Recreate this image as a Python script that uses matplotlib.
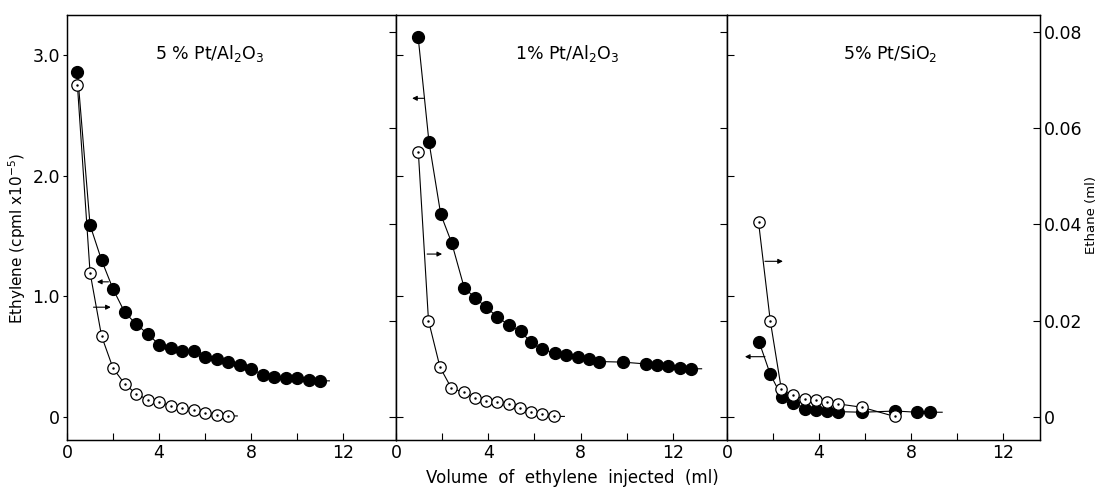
import matplotlib.pyplot as plt

# ethylene (cpm x 1e-5, left axis, filled) and ethane (ml, right axis, open)
# 5% Pt/Al2O3
a5_ethylene_x = [0.45, 1.0, 1.5, 2.0, 2.5, 3.0, 3.5, 4.0, 4.5, 5.0, 5.5,
                 6.0, 6.5, 7.0, 7.5, 8.0, 8.5, 9.0, 9.5, 10.0, 10.5, 11.0]
a5_ethylene_y = [2.86, 1.59, 1.30, 1.06, 0.87, 0.77, 0.69, 0.60, 0.57, 0.545, 0.55,
                 0.50, 0.48, 0.455, 0.43, 0.40, 0.35, 0.33, 0.32, 0.32, 0.305, 0.30]
a5_ethane_x = [0.45, 1.0, 1.5, 2.0, 2.5, 3.0, 3.5, 4.0, 4.5, 5.0, 5.5, 6.0, 6.5, 7.0]
a5_ethane_y = [0.069, 0.030, 0.0168, 0.0101, 0.0069, 0.0048, 0.0036, 0.0031,
               0.0023, 0.0018, 0.0015, 0.0008, 0.0003, 0.0002]

# 1% Pt/Al2O3
a1_ethylene_x = [0.96, 1.43, 1.94, 2.42, 2.96, 3.42, 3.9, 4.4, 4.9, 5.4, 5.85, 6.33,
                 6.9, 7.38, 7.88, 8.36, 8.8, 9.84, 10.83, 11.33, 11.8, 12.3, 12.78]
a1_ethylene_y = [3.15, 2.28, 1.68, 1.44, 1.07, 0.99, 0.91, 0.83, 0.76, 0.71, 0.62, 0.56,
                 0.53, 0.51, 0.50, 0.48, 0.46, 0.455, 0.44, 0.435, 0.42, 0.41, 0.40]
a1_ethane_x = [0.97, 1.41, 1.91, 2.4, 2.93, 3.42, 3.9, 4.38, 4.88, 5.39, 5.85, 6.33, 6.87]
a1_ethane_y = [0.055, 0.020, 0.0103, 0.006, 0.0051, 0.0039, 0.0034, 0.003,
               0.0027, 0.0018, 0.0011, 0.0006, 0.0001]

# 5% Pt/SiO2
s5_ethylene_x = [1.4, 1.88, 2.39, 2.87, 3.38, 3.87, 4.35, 4.83, 5.87, 7.32, 8.26, 8.8]
s5_ethylene_y = [0.62, 0.355, 0.165, 0.12, 0.07, 0.06, 0.05, 0.045, 0.04, 0.05, 0.04, 0.04]
s5_ethane_x = [1.37, 1.88, 2.36, 2.87, 3.38, 3.87, 4.35, 4.83, 5.87, 7.28]
s5_ethane_y = [0.0405, 0.020, 0.0058, 0.0045, 0.0037, 0.0036, 0.003, 0.0027, 0.002, 0.0001]

titles = ['5 % Pt/Al$_2$O$_3$', '1% Pt/Al$_2$O$_3$', '5% Pt/SiO$_2$']
ethylene_ticks = [0, 1.0, 2.0, 3.0]
ethylene_labels = ['0', '1.0', '2.0', '3.0']
ethane_ticks = [0, 0.02, 0.04, 0.06, 0.08]
ethane_labels = ['0', '0.02', '0.04', '0.06', '0.08']
x_ticks = [0, 2, 4, 6, 8, 10, 12]
x_labels = ['0', '', '4', '', '8', '', '12']

panels = [
    dict(ex=a5_ethylene_x, ey=a5_ethylene_y, ax_=a5_ethane_x, ay=a5_ethane_y,
         e_end=11.4, a_end=7.4, title=titles[0], tx=6.2,
         rect=[0.061, 0.0965, 0.2994, 0.8727], xmax=14.3,
         arrows=[((1.8, 1.12), (1.3, 1.12)), ((1.15, 0.91), (1.9, 0.91))]),
    dict(ex=a1_ethylene_x, ey=a1_ethylene_y, ax_=a1_ethane_x, ay=a1_ethane_y,
         e_end=13.25, a_end=7.3, title=titles[1], tx=7.4,
         rect=[0.3603, 0.0965, 0.3012, 0.8727], xmax=14.35,
         arrows=[((1.2, 2.64), (0.7, 2.64)), ((1.35, 1.35), (2.0, 1.35))]),
    dict(ex=s5_ethylene_x, ey=s5_ethylene_y, ax_=s5_ethane_x, ay=s5_ethane_y,
         e_end=9.35, a_end=None, title=titles[2], tx=7.1,
         rect=[0.6615, 0.0965, 0.2848, 0.8727], xmax=13.6,
         arrows=[((1.65, 1.29), (2.43, 1.29)), ((1.65, 0.5), (0.78, 0.5))]),
]

fig = plt.figure(figsize=(10.99, 4.87), dpi=100)

for i, p in enumerate(panels):
    ax = fig.add_axes(p['rect'])
    ax2 = ax.twinx()

    ex = p['ex'] + [p['e_end']]
    ey = p['ey'] + [p['ey'][-1]]
    ax.plot(ex, ey, '-', color='black', lw=0.8)
    ax.plot(p['ex'], p['ey'], 'o', color='black', ms=8.5, zorder=3)

    if p['a_end'] is not None:
        ax2x = p['ax_'] + [p['a_end']]
        ax2y = p['ay'] + [p['ay'][-1]]
    else:
        ax2x, ax2y = p['ax_'], p['ay']
    ax2.plot(ax2x, ax2y, '-', color='black', lw=0.8)
    ax2.plot(p['ax_'], p['ay'], 'o', mfc='white', mec='black', mew=0.9, ms=8.2, zorder=3)
    ax2.plot(p['ax_'], p['ay'], '.', color='black', ms=1.5, zorder=4)

    ax.set_xlim(0, p['xmax'])
    ax.set_ylim(-0.19, 3.33)
    ax2.set_ylim(-0.0048, 0.0835)

    ax.set_xticks(x_ticks)
    ax.set_xticklabels(x_labels)
    ax.set_yticks(ethylene_ticks)
    ax2.set_yticks(ethane_ticks)
    ax.tick_params(axis='x', direction='in', length=5, width=0.8, labelsize=12.5, pad=3)
    ax.tick_params(axis='y', direction='in', length=5, width=0.8, labelsize=12.5, pad=2)
    ax2.tick_params(axis='y', direction='in', length=5, width=0.8, labelsize=12.5, pad=3)

    if i == 0:
        ax.set_yticklabels(ethylene_labels)
        ax.tick_params(axis='y', direction='out', length=3)
    else:
        ax.set_yticklabels([])
    if i == 2:
        ax2.set_yticklabels(ethane_labels)
    else:
        ax2.set_yticklabels([])

    for a in (ax, ax2):
        for s in a.spines.values():
            s.set_linewidth(0.9)

    ax.text(p['tx'], 0.91, p['title'], transform=ax.get_xaxis_transform(),
            ha='center', va='center', fontsize=12.5)

    for tail, tip in p['arrows']:
        ax.annotate('', xy=tip, xytext=tail,
                    arrowprops=dict(arrowstyle='-|>', lw=0.8, color='black',
                                    mutation_scale=7, shrinkA=0, shrinkB=0))

fig.text(0.0155, 1 - 238 / 487, 'Ethylene (cpml x10$^{-5}$)', rotation=90,
         ha='center', va='center', fontsize=11)
fig.text(1092 / 1099, 1 - 215 / 487, 'Ethane (ml)', rotation=90,
         ha='center', va='center', fontsize=9.5)
fig.text(572 / 1099, 0.018, 'Volume  of  ethylene  injected  (ml)',
         ha='center', va='center', fontsize=12)

fig.savefig('out.png', dpi=100)
